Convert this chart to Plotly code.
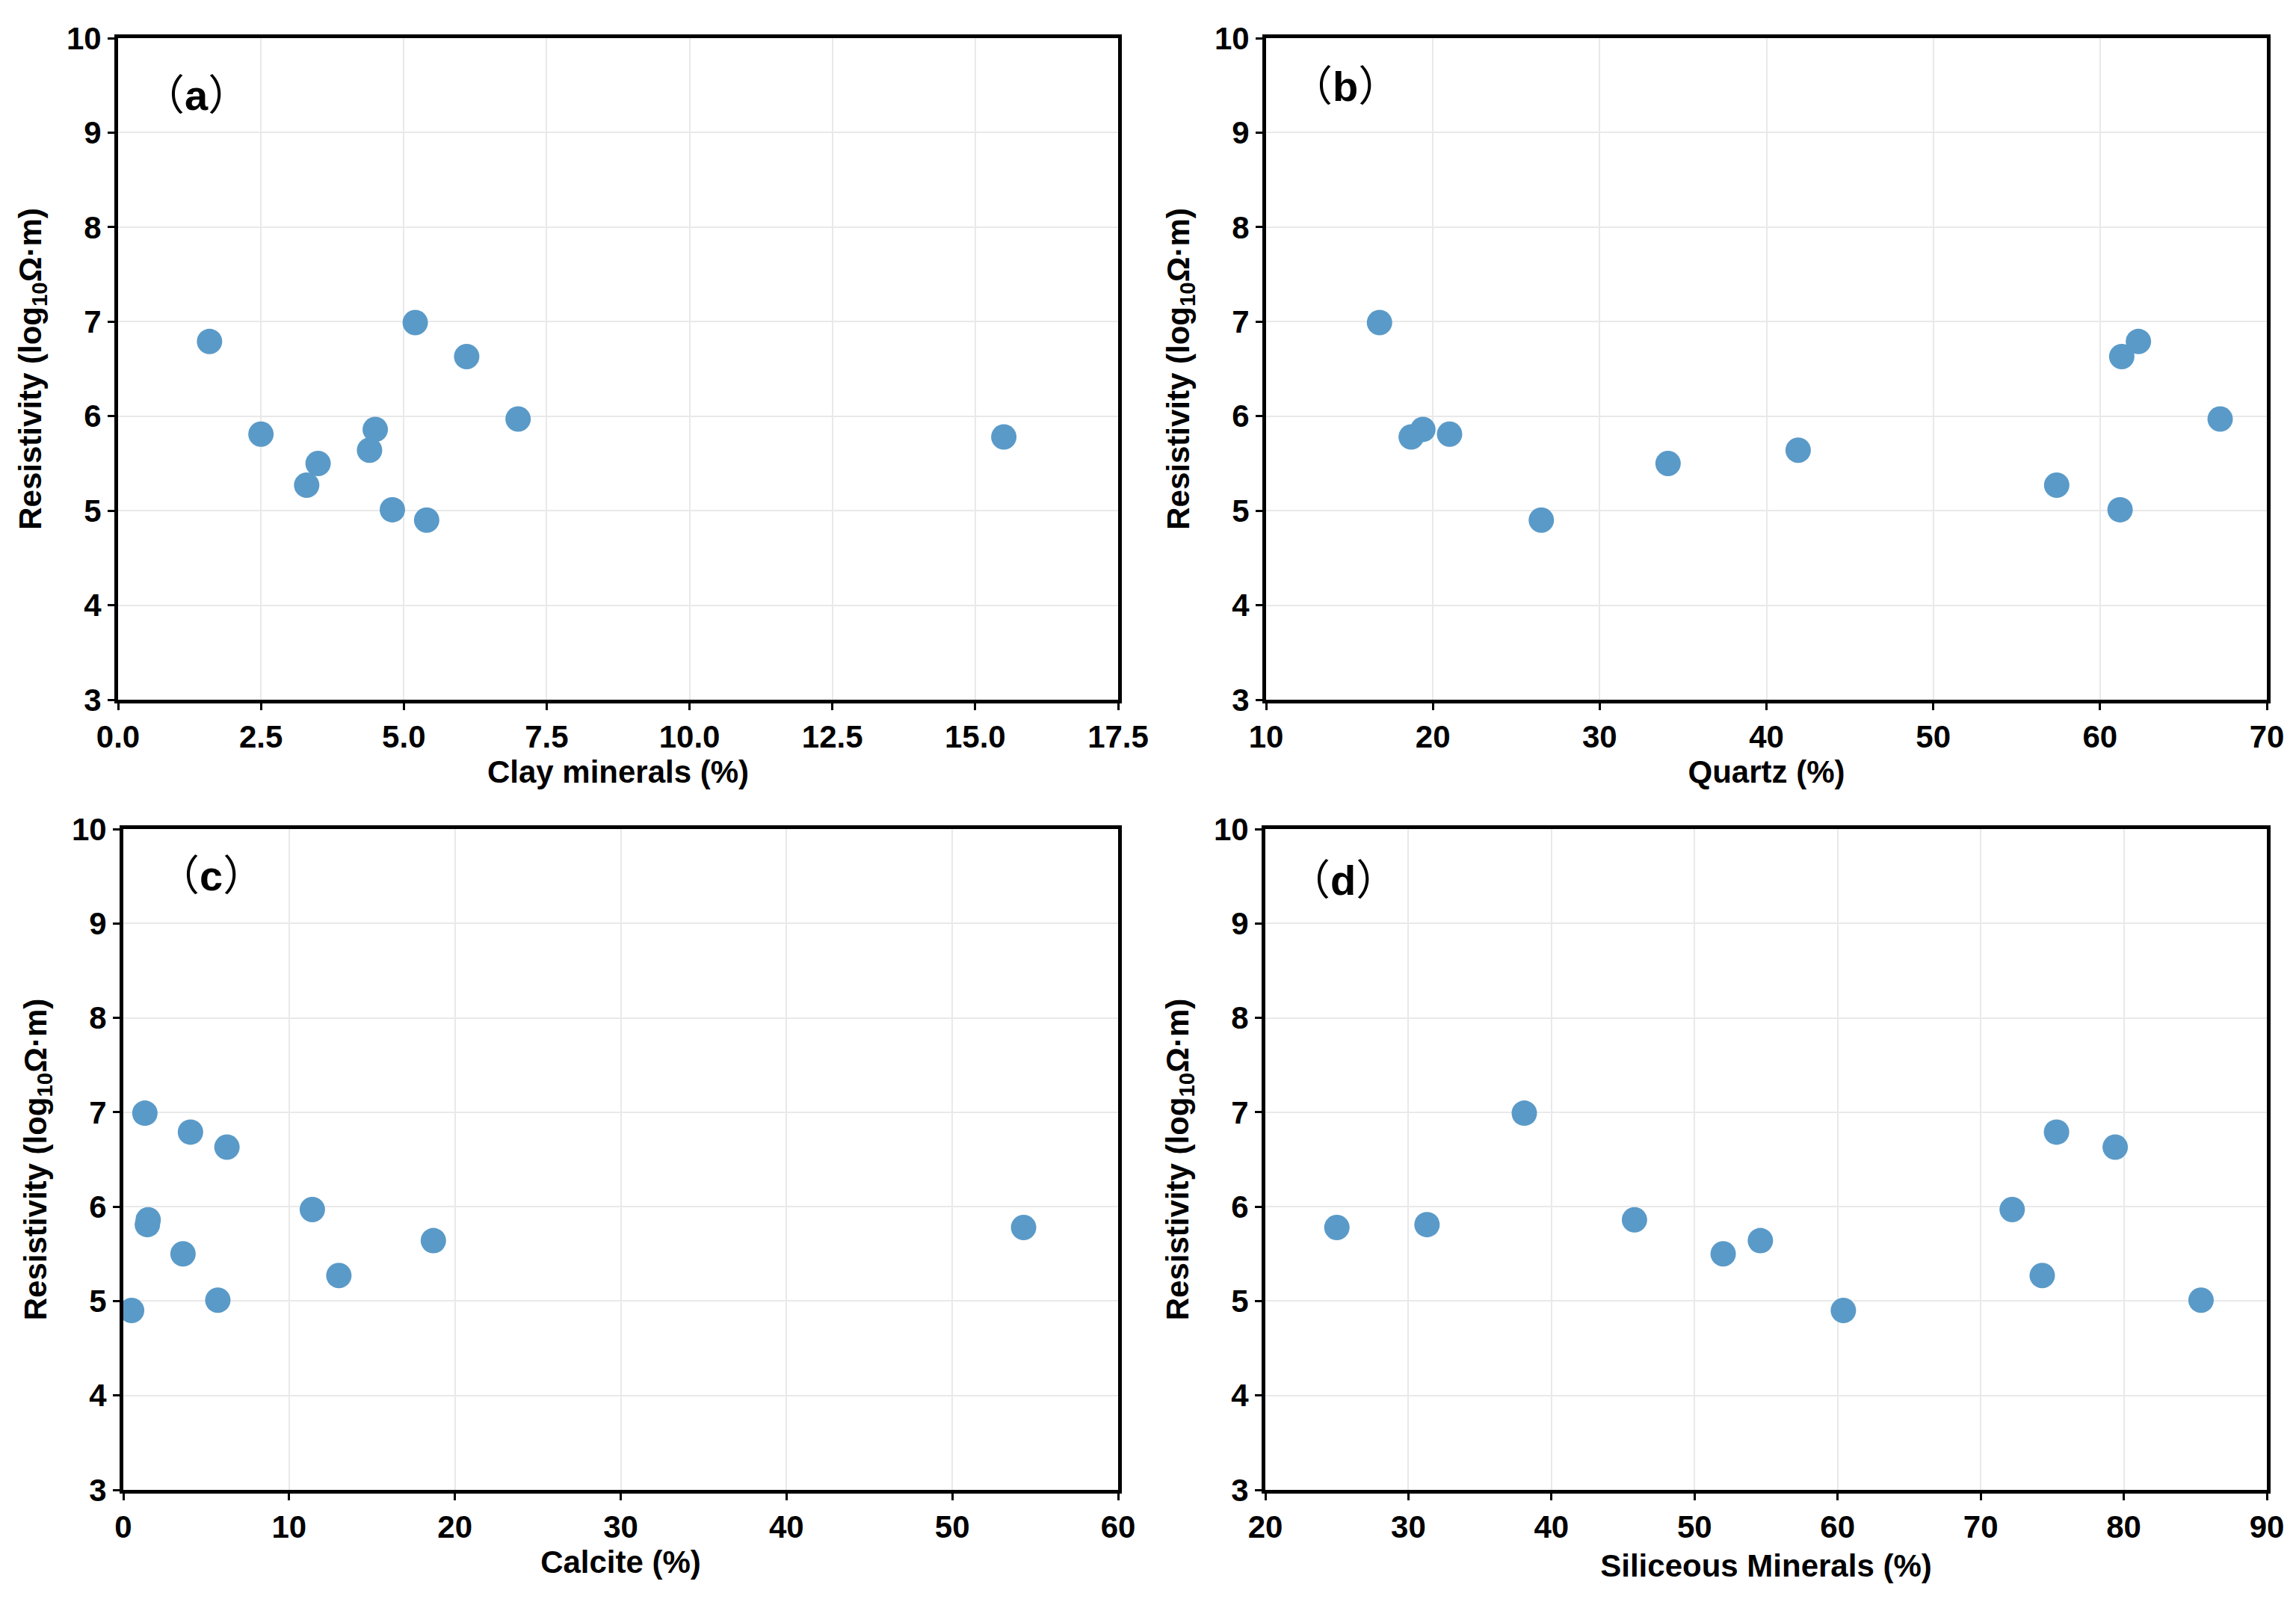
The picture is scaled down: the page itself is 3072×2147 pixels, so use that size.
import plotly.graph_objects as go

# Resistivity (log10 Ohm·m) for the 12 samples
resistivity = [6.79, 5.81, 5.27, 5.50, 5.64, 5.86, 5.01, 6.99, 4.90, 6.63, 5.97, 5.78]

clay = [1.6, 2.5, 3.3, 3.5, 4.4, 4.5, 4.8, 5.2, 5.4, 6.1, 7.0, 15.5]
quartz = [62.3, 21.0, 57.4, 34.1, 41.9, 19.4, 61.2, 16.8, 26.5, 61.3, 67.2, 18.7]
calcite = [4.05, 1.45, 13.0, 3.6, 18.7, 1.5, 5.7, 1.3, 0.5, 6.25, 11.4, 54.3]
siliceous = [75.3, 31.3, 74.3, 52.0, 54.6, 45.8, 85.4, 38.1, 60.4, 79.4, 72.2, 25.0]

x_titles = ["Clay minerals (%)", "Quartz (%)", "Calcite (%)", "Siliceous Minerals (%)"]
panel_labels = ["a", "b", "c", "d"]
x_ranges = [(0, 17.5, 2.5), (10, 70, 10), (0, 60, 10), (20, 90, 10)]
y_ticks = [3, 4, 5, 6, 7, 8, 9, 10]

W, H = 3072, 2147
FONT = "Liberation Sans, Arial, Noto Sans CJK SC"
MARKER_COLOR = "#5A9AC8"

# plot area pixel boxes (left, right, top, bottom)
boxes = [(150, 1488, 43, 928), (1686, 3025, 43, 928),
         (157, 1488, 1101, 1985), (1685, 3025, 1101, 1985)]
label_pos = [(0.078, 0.913), (0.079, 0.927), (0.088, 0.929), (0.0775, 0.922)]
x_standoff = [8, 0, 4, 16]

fig = go.Figure()
xs_all = [clay, quartz, calcite, siliceous]

for i in range(4):
    ax = "" if i == 0 else str(i + 1)
    fig.add_trace(go.Scatter(
        x=xs_all[i], y=resistivity, mode="markers",
        marker=dict(size=34, color=MARKER_COLOR, line=dict(width=0)),
        xaxis="x" + ax, yaxis="y" + ax, showlegend=False))
    l, r, t, b = boxes[i]
    x0, x1, dx = x_ranges[i]
    common = dict(showline=True, linecolor="black", linewidth=5, mirror=True,
                  ticks="outside", ticklen=9, tickwidth=3, tickcolor="black",
                  showgrid=True, gridcolor="#e9e9e9", gridwidth=2, zeroline=False,
                  automargin=False,
                  tickfont=dict(family=FONT, size=42, color="black", weight="bold"))
    xa = dict(domain=[l / W, r / W], range=[x0, x1], dtick=dx, tick0=x0,
              anchor="y" + ax,
              title=dict(text="<b>" + x_titles[i] + "</b>", standoff=x_standoff[i],
                         font=dict(family=FONT, size=42, color="black")),
              **common)
    if dx == 2.5:
        xa["tickformat"] = ".1f"
    ya = dict(domain=[1 - b / H, 1 - t / H], range=[3, 10], tickvals=y_ticks,
              anchor="x" + ax,
              title=dict(text="<b>Resistivity (log<sub>10</sub>Ω·m)</b>", standoff=22,
                         font=dict(family=FONT, size=42, color="black")),
              **common)
    fig.layout["xaxis" + ax] = xa
    fig.layout["yaxis" + ax] = ya
    lx, ly = label_pos[i]
    fig.add_annotation(text="（<b>" + panel_labels[i] + "</b>）",
                       xref="x" + ax + " domain", yref="y" + ax + " domain",
                       x=lx, y=ly, showarrow=False, xanchor="center", yanchor="middle",
                       font=dict(family=FONT, size=56, color="black"))

fig.update_layout(width=W, height=H, margin=dict(l=0, r=0, t=0, b=0, autoexpand=False),
                  plot_bgcolor="white", paper_bgcolor="white")
fig.write_html("out.html")
